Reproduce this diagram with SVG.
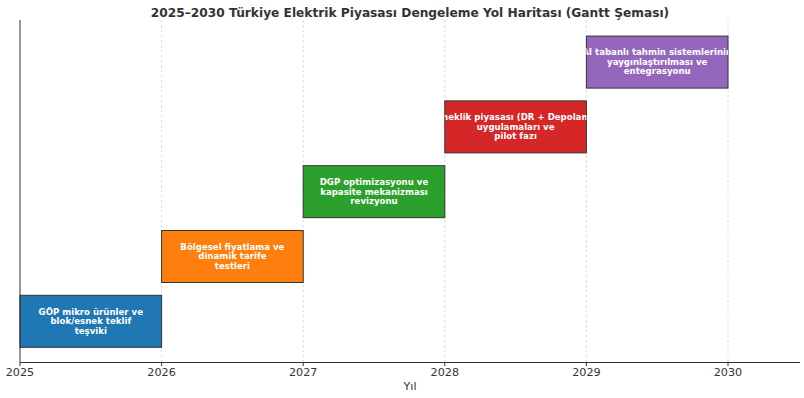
<svg xmlns="http://www.w3.org/2000/svg" width="804" height="398" viewBox="0 0 804 398">
<style>
.title{font-family:"DejaVu Sans",sans-serif;font-weight:bold;font-size:12.2px;fill:#333;text-anchor:middle}
.tick{font-family:"DejaVu Sans",sans-serif;font-size:11.2px;fill:#333;text-anchor:middle}
.bt{font-family:"DejaVu Sans",sans-serif;font-weight:bold;font-size:8.6px;fill:#fff;text-anchor:middle}
.grid{stroke:#cfcfcf;stroke-width:0.8;stroke-dasharray:2.5,2.5}
.bar{stroke:#333;stroke-width:1}
.spine{stroke:#333;stroke-width:1;fill:none}
</style>
<defs>
<clipPath id="c4"><rect x="444.8" y="100.9" width="141.6" height="52"/></clipPath>
<clipPath id="c5"><rect x="586.4" y="36.1" width="141.6" height="52"/></clipPath>
</defs>
<rect width="804" height="398" fill="#fff"/>
<text class="title" x="410" y="16.5">2025–2030 Türkiye Elektrik Piyasası Dengeleme Yol Haritası (Gantt Şeması)</text>
<g id="grid">
<line class="grid" x1="161.6" y1="20" x2="161.6" y2="362.5"/>
<line class="grid" x1="303.2" y1="20" x2="303.2" y2="362.5"/>
<line class="grid" x1="444.8" y1="20" x2="444.8" y2="362.5"/>
<line class="grid" x1="586.4" y1="20" x2="586.4" y2="362.5"/>
<line class="grid" x1="728" y1="20" x2="728" y2="362.5"/>
</g>
<g id="task1">
<rect class="bar" x="20" y="295.3" width="141.6" height="52" fill="#1f77b4"/>
<text class="bt" x="90.8" y="314.6">GÖP mikro ürünler ve</text>
<text class="bt" x="90.8" y="324.1">blok/esnek teklif</text>
<text class="bt" x="90.8" y="333.6">teşviki</text>
</g>
<g id="task2">
<rect class="bar" x="161.6" y="230.5" width="141.6" height="52" fill="#ff7f0e"/>
<text class="bt" x="232.4" y="249.8">Bölgesel fiyatlama ve</text>
<text class="bt" x="232.4" y="259.3">dinamik tarife</text>
<text class="bt" x="232.4" y="268.8">testleri</text>
</g>
<g id="task3">
<rect class="bar" x="303.2" y="165.7" width="141.6" height="52" fill="#2ca02c"/>
<text class="bt" x="374" y="185">DGP optimizasyonu ve</text>
<text class="bt" x="374" y="194.5">kapasite mekanizması</text>
<text class="bt" x="374" y="204">revizyonu</text>
</g>
<g id="task4">
<rect class="bar" x="444.8" y="100.9" width="141.6" height="52" fill="#d62728"/>
<g clip-path="url(#c4)">
<text class="bt" x="515.6" y="120.2">Esneklik piyasası (DR + Depolama)</text>
</g>
<text class="bt" x="515.6" y="129.7">uygulamaları ve</text>
<text class="bt" x="515.6" y="139.2">pilot fazı</text>
</g>
<g id="task5">
<rect class="bar" x="586.4" y="36.1" width="141.6" height="52" fill="#9467bd"/>
<g clip-path="url(#c5)">
<text class="bt" x="657.2" y="55.4">AI tabanlı tahmin sistemlerinin</text>
</g>
<text class="bt" x="657.2" y="64.9">yaygınlaştırılması ve</text>
<text class="bt" x="657.2" y="74.4">entegrasyonu</text>
</g>
<g id="axes">
<line class="spine" x1="20" y1="20" x2="20" y2="362.5"/>
<line class="spine" x1="20" y1="362.5" x2="800" y2="362.5"/>
<line class="spine" x1="20" y1="362.5" x2="20" y2="366"/>
<line class="spine" x1="161.6" y1="362.5" x2="161.6" y2="366"/>
<line class="spine" x1="303.2" y1="362.5" x2="303.2" y2="366"/>
<line class="spine" x1="444.8" y1="362.5" x2="444.8" y2="366"/>
<line class="spine" x1="586.4" y1="362.5" x2="586.4" y2="366"/>
<line class="spine" x1="728" y1="362.5" x2="728" y2="366"/>
<text class="tick" x="20" y="375.5">2025</text>
<text class="tick" x="161.6" y="375.5">2026</text>
<text class="tick" x="303.2" y="375.5">2027</text>
<text class="tick" x="444.8" y="375.5">2028</text>
<text class="tick" x="586.4" y="375.5">2029</text>
<text class="tick" x="728" y="375.5">2030</text>
<text class="tick" x="410" y="390">Yıl</text>
</g>
</svg>
